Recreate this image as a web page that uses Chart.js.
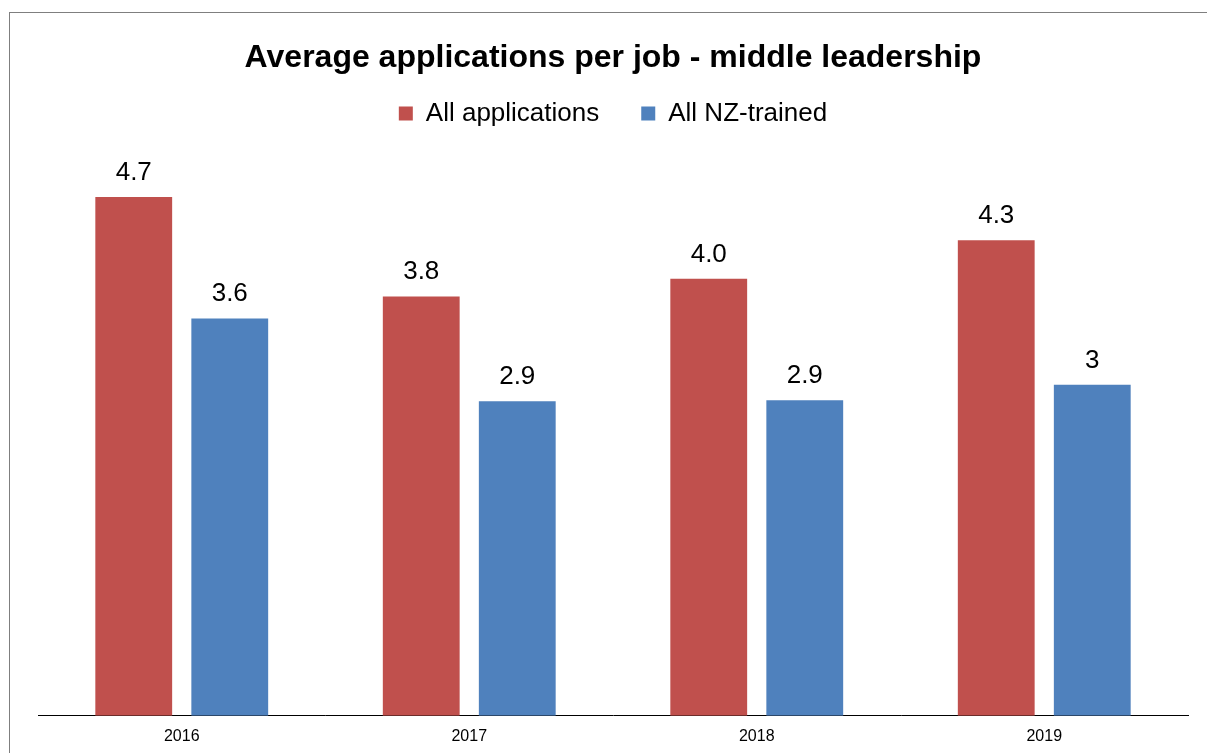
<!DOCTYPE html>
<html>
<head>
<meta charset="utf-8">
<script src="https://cdn.jsdelivr.net/npm/chart.js@4"></script>
<style>
  html, body { margin: 0; padding: 0; background: #fff; overflow: hidden; }
  #wrap { position: relative; width: 1207px; height: 753px; overflow: hidden; }
  #frame { position: absolute; left: 9px; top: 12px; width: 1300px; height: 900px; border: 1px solid #7f7f7f; }
  canvas { position: absolute; left: 0; top: 0; }
</style>
</head>
<body>
<div id="wrap">
  <div id="frame"></div>
  <canvas id="myChart" width="1207" height="761"></canvas>
</div>
<script>
const years = ["2016", "2017", "2018", "2019"];
const allApplications = [4.7, 3.8, 3.96, 4.31];
const nzTrained = [3.6, 2.85, 2.86, 3.0];
const allApplicationsLabels = ["4.7", "3.8", "4.0", "4.3"];
const nzTrainedLabels = ["3.6", "2.9", "2.9", "3"];

const font = "'Liberation Sans', Arial, sans-serif";

// draws the number above each bar
const barLabels = {
  id: 'barLabels',
  afterDatasetsDraw(chart) {
    const ctx = chart.ctx;
    ctx.save();
    ctx.font = "26px " + font;
    ctx.fillStyle = "#000";
    ctx.textAlign = "center";
    ctx.textBaseline = "alphabetic";
    chart.data.datasets.forEach((ds, i) => {
      chart.getDatasetMeta(i).data.forEach((bar, j) => {
        ctx.fillText(ds.labelsText[j], bar.x, bar.y - 17);
      });
    });
    ctx.restore();
  }
};

const ctx = document.getElementById('myChart').getContext('2d');
const myChart = new Chart(ctx, {
  type: 'bar',
  data: {
    labels: years,
    datasets: [
      {
        label: "All applications",
        data: allApplications,
        labelsText: allApplicationsLabels,
        backgroundColor: "#C0504D"
      },
      {
        label: "All NZ-trained",
        data: nzTrained,
        labelsText: nzTrainedLabels,
        backgroundColor: "#4F81BD"
      }
    ]
  },
  options: {
    responsive: false,
    animation: false,
    layout: { padding: { left: 38, right: 19, top: 35, bottom: 4 } },
    categoryPercentage: 0.668,
    barPercentage: 0.8,
    plugins: {
      title: {
        display: true,
        text: "Average applications per job - middle leadership",
        color: "#000",
        font: { family: font, size: 32, weight: "bold" },
        padding: { top: 4, bottom: -19 }
      },
      legend: {
        display: true,
        labels: {
          color: "#000",
          font: { family: font, size: 26 },
          boxWidth: 14,
          boxHeight: 14,
          padding: 42
        }
      },
      tooltip: { enabled: false }
    },
    scales: {
      x: {
        grid: { display: false, drawTicks: false },
        border: { display: true, color: "#000", width: 1 },
        ticks: { color: "#000", font: { family: font, size: 16 }, padding: 11 }
      },
      y: {
        display: false,
        min: 0,
        max: 5.25
      }
    }
  },
  plugins: [barLabels]
});
</script>
</body>
</html>
